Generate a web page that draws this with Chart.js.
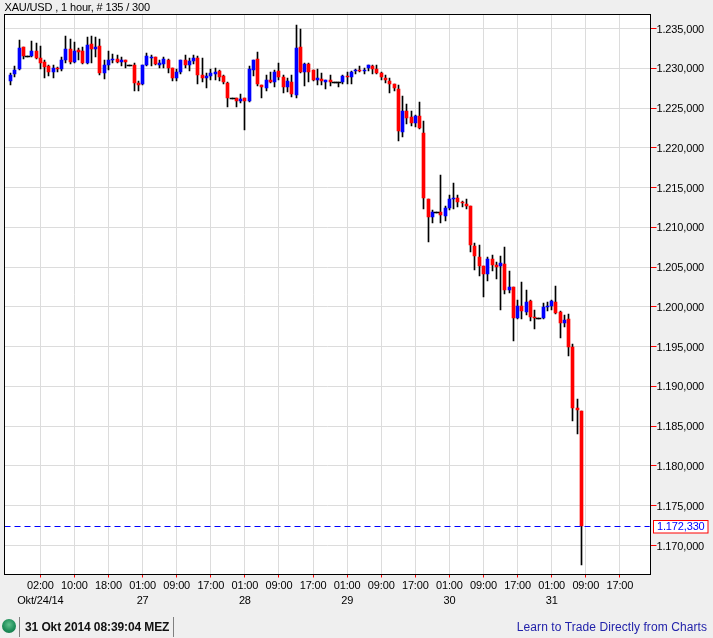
<!DOCTYPE html>
<html><head><meta charset="utf-8">
<script src="https://cdn.jsdelivr.net/npm/chart.js@4"></script>
<style>
html,body{margin:0;padding:0;background:#efefef;width:713px;height:638px;overflow:hidden}
#wrap{position:relative;width:713px;height:638px}
canvas{display:block}
.f{position:absolute;font-family:"Liberation Sans",Arial,sans-serif;font-size:12px;white-space:nowrap;line-height:14px}
</style></head><body>
<div id="wrap">
<canvas id="c" width="713" height="638"></canvas>
<div class="f" style="left:2px;top:619px;width:14px;height:14px;border-radius:50%;background:radial-gradient(circle at 50% 40%,#5fc08c 0%,#1f8f5b 55%,#0d6b3f 100%)"></div>
<div class="f" style="left:19px;top:617px;width:1px;height:20px;background:#808080"></div>
<div class="f" style="left:25px;top:620px;font-weight:bold;color:#111;letter-spacing:-0.1px">31 Okt 2014 08:39:04 MEZ</div>
<div class="f" style="left:173px;top:617px;width:1px;height:20px;background:#808080"></div>
<div class="f" style="right:6px;top:620px;color:#2222aa;letter-spacing:0.08px">Learn to Trade Directly from Charts</div>
</div>
<script>
const chartTitle = "XAU/USD , 1 hour, # 135 / 300";
const opens = [1.22838,1.22926,1.22989,1.23265,1.23148,1.23152,1.23215,1.23127,1.23077,1.23027,1.22951,1.23006,1.22997,1.23102,1.23240,1.23085,1.23228,1.23215,1.23060,1.23303,
1.23240,1.23278,1.22939,1.23039,1.23102,1.23115,1.23085,1.23102,1.23035,1.23039,1.22813,1.22801,1.23039,1.23127,1.23140,1.23039,1.23052,1.23102,1.23002,1.22876,
1.22951,1.23102,1.23039,1.23090,1.23127,1.22914,1.22876,1.22901,1.22926,1.22964,1.22901,1.22813,1.22621,1.22625,1.22587,1.22625,1.22587,1.22977,1.23115,1.22788,
1.22750,1.22851,1.22826,1.22964,1.22889,1.22763,1.22826,1.22662,1.23265,1.22951,1.23052,1.22977,1.22851,1.22863,1.22826,1.22851,1.22826,1.22826,1.22826,1.22901,
1.22889,1.22964,1.22977,1.22964,1.23002,1.23027,1.22989,1.22939,1.22876,1.22838,1.22801,1.22738,1.22198,1.22461,1.22386,1.22311,1.22399,1.22185,1.21356,1.21130,
1.21188,1.21192,1.21142,1.21243,1.21356,1.21368,1.21318,1.21293,1.21268,1.20765,1.20627,1.20514,1.20414,1.20602,1.20527,1.20514,1.20539,1.20212,1.20250,1.19861,
1.20012,1.19936,1.20074,1.19873,1.19856,1.19861,1.19999,1.20012,1.20062,1.19936,1.19798,1.19848,1.19496,1.18730,1.18692];
const highs = [1.22943,1.23027,1.23353,1.23270,1.23152,1.23341,1.23320,1.23278,1.23102,1.23039,1.23035,1.23018,1.23140,1.23404,1.23362,1.23328,1.23257,1.23265,1.23395,1.23404,
1.23387,1.23374,1.23102,1.23215,1.23178,1.23165,1.23136,1.23102,1.23039,1.23069,1.22838,1.23047,1.23190,1.23165,1.23140,1.23102,1.23140,1.23115,1.23002,1.22997,
1.23102,1.23165,1.23127,1.23165,1.23152,1.23127,1.22939,1.22989,1.23002,1.22977,1.22914,1.22826,1.22625,1.22625,1.22675,1.22625,1.23027,1.23102,1.23203,1.22788,
1.22914,1.22951,1.22977,1.23064,1.22914,1.22876,1.22914,1.23542,1.23492,1.23064,1.23064,1.22977,1.22989,1.22939,1.22851,1.22914,1.22826,1.22826,1.22914,1.22951,
1.22964,1.22989,1.23027,1.23002,1.23039,1.23039,1.23039,1.22951,1.22914,1.22876,1.22801,1.22788,1.22650,1.22549,1.22461,1.22411,1.22574,1.22336,1.21356,1.21218,
1.21188,1.21657,1.21268,1.21406,1.21557,1.21406,1.21331,1.21356,1.21268,1.20803,1.20778,1.20514,1.20627,1.20652,1.20564,1.20640,1.20753,1.20451,1.20250,1.20087,
1.20313,1.20212,1.20087,1.19961,1.19856,1.20049,1.20062,1.20087,1.20263,1.19949,1.19898,1.19911,1.19534,1.18843,1.18692];
const lows = [1.22788,1.22884,1.22977,1.23111,1.23140,1.23144,1.23111,1.22989,1.22880,1.22901,1.22880,1.22951,1.22964,1.23069,1.23052,1.23069,1.23102,1.23052,1.23052,1.23060,
1.23136,1.22914,1.22863,1.22977,1.23060,1.23060,1.23027,1.23006,1.23027,1.22713,1.22713,1.22788,1.23027,1.23027,1.23039,1.23002,1.23002,1.22935,1.22838,1.22838,
1.22926,1.23002,1.22964,1.23052,1.22801,1.22826,1.22750,1.22851,1.22851,1.22838,1.22801,1.22512,1.22616,1.22512,1.22562,1.22223,1.22574,1.22901,1.22775,1.22625,
1.22713,1.22813,1.22763,1.22851,1.22688,1.22700,1.22637,1.22625,1.22939,1.22775,1.22826,1.22838,1.22788,1.22788,1.22738,1.22775,1.22822,1.22763,1.22801,1.22801,
1.22801,1.22926,1.22951,1.22926,1.22964,1.22926,1.22926,1.22851,1.22813,1.22688,1.22713,1.22085,1.22135,1.22298,1.22273,1.22260,1.22235,1.21230,1.20815,1.21054,
1.21184,1.21054,1.21079,1.21218,1.21230,1.21255,1.21255,1.21230,1.20690,1.20464,1.20388,1.20124,1.20325,1.20451,1.20351,1.19961,1.20162,1.20175,1.19572,1.19848,
1.19848,1.19898,1.19823,1.19722,1.19852,1.19848,1.19949,1.19961,1.19911,1.19609,1.19748,1.19383,1.18566,1.18403,1.16757];
const closes = [1.22914,1.22977,1.23253,1.23157,1.23148,1.23215,1.23123,1.23064,1.23014,1.22951,1.23002,1.22993,1.23102,1.23240,1.23085,1.23215,1.23203,1.23060,1.23291,1.23240,
1.23265,1.22939,1.23039,1.23102,1.23115,1.23077,1.23102,1.23077,1.23035,1.22817,1.22788,1.23039,1.23152,1.23140,1.23052,1.23064,1.23115,1.23002,1.22876,1.22951,
1.23102,1.23039,1.23090,1.23127,1.22914,1.22876,1.22901,1.22939,1.22951,1.22889,1.22826,1.22625,1.22621,1.22587,1.22612,1.22587,1.22989,1.23102,1.22801,1.22759,
1.22851,1.22826,1.22951,1.22889,1.22763,1.22838,1.22675,1.23253,1.22951,1.23052,1.22951,1.22851,1.22876,1.22838,1.22851,1.22826,1.22826,1.22826,1.22901,1.22889,
1.22951,1.22977,1.22964,1.22977,1.23039,1.22989,1.22939,1.22889,1.22851,1.22801,1.22750,1.22210,1.22461,1.22373,1.22311,1.22399,1.22248,1.21368,1.21130,1.21192,
1.21188,1.21155,1.21243,1.21356,1.21368,1.21318,1.21305,1.21268,1.20778,1.20640,1.20514,1.20414,1.20602,1.20527,1.20501,1.20552,1.20212,1.20250,1.19861,1.20012,
1.19949,1.20062,1.19873,1.19861,1.19856,1.19999,1.20012,1.20074,1.19923,1.19798,1.19836,1.19496,1.18730,1.18705,1.17247];
const xTickIndex = [7,15,23,31,39,47,55,63,71,79,87,95,103,111,119,127,135,143];
const xTimeLabels = ["02:00","10:00","18:00","01:00","09:00","17:00","01:00","09:00","17:00","01:00","09:00","17:00","01:00","09:00","17:00","01:00","09:00","17:00"];
const xDateLabels = ["Okt/24/14","","","27","","","28","","","29","","","30","","","31","",""];
const yTicks = [1.235,1.23,1.225,1.22,1.215,1.21,1.205,1.2,1.195,1.19,1.185,1.18,1.175,1.17];
const currentPriceLevel = 1.17243;
const currentPriceLabel = "1.172,330";

const FONT = '"Liberation Sans", Arial, sans-serif';
const idx = opens.map((_, i) => i);
const wicks = idx.map(i => ({x:i, y:[lows[i], highs[i]]}));
const down  = idx.filter(i => closes[i] < opens[i]).map(i => ({x:i, y:[closes[i], opens[i]]}));
const up    = idx.filter(i => closes[i] > opens[i]).map(i => ({x:i, y:[opens[i], closes[i]]}));
const flat  = idx.filter(i => closes[i] === opens[i]).map(i => ({x:i, y:[opens[i], closes[i]+0.00001]}));
const xMin = -1.408, xMax = 150.19, yMin = 1.166354, yMax = 1.23676;

const snap = {
  id:'snap',
  afterDatasetsUpdate(chart){
    chart.data.datasets.forEach((d,k)=>{
      const m = chart.getDatasetMeta(k);
      m.data.forEach(el=>{
        if(d.type==='line'){ el.y = Math.floor(el.y)+0.5; return; }
        el.x = Math.floor(el.x)+0.5;
        el.y = Math.round(el.y); el.base = Math.round(el.base);
        if(el.y===el.base) el.base = el.y+1;
      });
    });
  }
};
const decor = {
  id:'decor',
  beforeDraw(chart){
    const a = chart.chartArea, c = chart.ctx;
    c.letterSpacing = '-0.15px';
    c.save(); c.fillStyle='#ffffff'; c.fillRect(a.left,a.top,a.right-a.left,a.bottom-a.top); c.restore();
    [chart.scales.x, chart.scales.y].forEach(s=>{
      s.getLabelItems(a).forEach(it=>{ it.options.translation[1] += 1; });
    });
  },
  afterDraw(chart){
    const a = chart.chartArea, c = chart.ctx;
    c.save();
    c.strokeStyle='#000'; c.lineWidth=1; c.strokeRect(a.left,a.top,a.right-a.left,a.bottom-a.top);
    const y = Math.floor(chart.scales.y.getPixelForValue(currentPriceLevel));
    c.fillStyle='#ffffff'; c.fillRect(653.5,y-6+0.5,54.5,12.5);
    c.strokeStyle='#ff0000';
    c.strokeRect(653.5,y-6+0.5,54.5,12.5);
    c.fillStyle='#0000ff'; c.font='11px '+FONT; c.textBaseline='middle'; c.textAlign='left';
    c.fillText(currentPriceLabel,657,y+1);
    c.restore();
  }
};
Chart.defaults.font.family = FONT;
new Chart(document.getElementById('c'),{
  data:{datasets:[
    {type:'line',data:[{x:xMin,y:currentPriceLevel},{x:150,y:currentPriceLevel}],borderColor:'#0000ff',borderWidth:1,borderDash:[6,4],pointRadius:0,order:0,parsing:true},
    {type:'bar',data:flat,backgroundColor:'#000000',barThickness:5,grouped:false,order:1},
    {type:'bar',data:down,backgroundColor:'#ff0000',barThickness:3,grouped:false,order:1},
    {type:'bar',data:up,backgroundColor:'#0000ff',barThickness:3,grouped:false,order:1},
    {type:'bar',data:wicks,backgroundColor:'#000000',barThickness:1,grouped:false,order:2}
  ]},
  options:{
    responsive:false,animation:false,devicePixelRatio:1,
    layout:{padding:{left:4.5,right:0,top:0,bottom:0}},
    plugins:{
      legend:{display:false},tooltip:{enabled:false},
      title:{display:true,text:chartTitle,align:'start',color:'#000',padding:{top:1,bottom:0.5},font:{size:11,weight:'normal',family:FONT,lineHeight:13/11}}
    },
    scales:{
      x:{type:'linear',min:xMin,max:xMax,position:'bottom',offset:false,
        grid:{offset:false,color:'#dcdcdc',lineWidth:1,tickColor:'#ff0000',tickLength:3,drawOnChartArea:true},
        border:{color:'#000'},
        afterBuildTicks(s){s.ticks = xTickIndex.map(v=>({value:v}));},
        afterFit(s){s.height=63.5;},
        ticks:{autoSkip:false,maxRotation:0,minRotation:0,padding:0,color:'#000',font:{size:11,family:FONT,lineHeight:15/11},
          callback(v,i){return xDateLabels[i]?[xTimeLabels[i],xDateLabels[i]]:xTimeLabels[i];}}
      },
      y:{type:'linear',min:yMin,max:yMax,position:'right',
        grid:{color:'#dcdcdc',lineWidth:1,tickColor:'#ff0000',tickLength:6,drawOnChartArea:true},
        border:{color:'#000'},
        afterBuildTicks(s){s.ticks = yTicks.map(v=>({value:v}));},
        afterFit(s){s.width=62.5;},
        ticks:{padding:0,color:'#000',font:{size:11,family:FONT},
          callback(v){return v.toFixed(3)+',000';}}
      }
    }
  },
  plugins:[snap,decor]
});
</script>
</body></html>
